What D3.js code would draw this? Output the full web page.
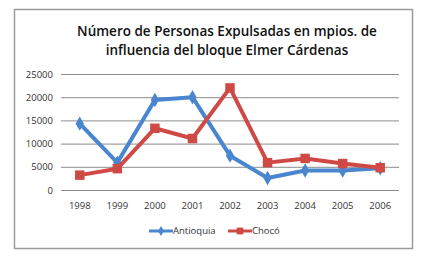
<!DOCTYPE html>
<html>
<head>
<meta charset="utf-8">
<title>Personas Expulsadas</title>
<script src="https://d3js.org/d3.v7.min.js"></script>
<style>
  body { margin: 0; background: #fff; }
  text { font-family: "Open Sans", "Liberation Sans", sans-serif; }
</style>
</head>
<body>
<script>
var years = ["1998", "1999", "2000", "2001", "2002", "2003", "2004", "2005", "2006"];
var antioquia = [14300, 5900, 19400, 20000, 7400, 2600, 4200, 4200, 4700];
var choco = [3200, 4600, 13300, 11100, 22000, 5900, 6800, 5700, 4800];
var yTicks = [0, 5000, 10000, 15000, 20000, 25000];
var titleLines = ["Número de Personas Expulsadas en mpios. de", "influencia del bloque Elmer Cárdenas"];

var width = 428, height = 258;
var blue = "#4a86cf", red = "#cf4a44";

var svg = d3.select("body").append("svg")
    .attr("width", width)
    .attr("height", height);

// outer frame
svg.append("rect")
    .attr("x", 14.5).attr("y", 9.5)
    .attr("width", 398).attr("height", 239)
    .attr("fill", "#fff")
    .attr("stroke", "#9a9a9a")
    .attr("stroke-width", 1.5);

svg.selectAll("text.title")
    .data(titleLines)
    .enter().append("text")
    .attr("class", "title")
    .attr("x", 227)
    .attr("y", function(d, i) { return 36 + i * 19; })
    .attr("text-anchor", "middle")
    .attr("font-size", 13.5)
    .attr("font-weight", 600)
    .attr("fill", "#111")
    .text(function(d) { return d; });

var x = d3.scaleBand().domain(years).range([61, 399]);
var y = d3.scaleLinear().domain([0, 25000]).range([190, 74]);

// gridlines
svg.append("g")
    .attr("transform", "translate(61,0)")
    .call(d3.axisLeft(y).tickValues(yTicks).tickSize(-338).tickFormat(function(d) { return d; }))
    .call(function(g) {
        g.select(".domain").remove();
        g.selectAll(".tick line").attr("stroke", "#8c8c8c").attr("stroke-width", 1);
        g.selectAll(".tick text").attr("x", -8).attr("fill", "#333").attr("font-size", 9.5);
    });

svg.append("g")
    .attr("transform", "translate(0,190)")
    .call(d3.axisBottom(x).tickSize(0))
    .call(function(g) {
        g.select(".domain").remove();
        g.selectAll(".tick text").attr("y", 12).attr("fill", "#333").attr("font-size", 9.5);
    });

var line = d3.line()
    .x(function(d, i) { return x(years[i]) + x.bandwidth() / 2; })
    .y(function(d) { return y(d); });

var series = [
    {name: "Antioquia", values: antioquia, color: blue, shape: d3.symbolDiamond, size: 60},
    {name: "Chocó", values: choco, color: red, shape: d3.symbolSquare, size: 90}
];

series.forEach(function(s) {
    svg.append("path")
        .datum(s.values)
        .attr("fill", "none")
        .attr("stroke", s.color)
        .attr("stroke-width", 4)
        .attr("stroke-linejoin", "round")
        .attr("d", line);
    svg.selectAll(null)
        .data(s.values)
        .enter().append("path")
        .attr("transform", function(d, i) {
            return "translate(" + (x(years[i]) + x.bandwidth() / 2) + "," + y(d) + ")";
        })
        .attr("d", d3.symbol().type(s.shape).size(s.size))
        .attr("fill", s.color);
});

// legend
var legend = svg.selectAll("g.legend")
    .data(series)
    .enter().append("g")
    .attr("class", "legend")
    .attr("transform", function(d, i) { return "translate(" + (149 + i * 79) + ",231)"; });

legend.append("line")
    .attr("x1", 0).attr("x2", 24)
    .attr("stroke", function(d) { return d.color; })
    .attr("stroke-width", 3);
legend.append("path")
    .attr("transform", "translate(12,0)")
    .attr("d", function(d) { return d3.symbol().type(d.shape).size(d.size * 0.5)(); })
    .attr("fill", function(d) { return d.color; });
legend.append("text")
    .attr("x", 24)
    .attr("dy", "0.35em")
    .attr("font-size", 9.5)
    .attr("fill", "#333")
    .text(function(d) { return d.name; });
</script>
</body>
</html>
